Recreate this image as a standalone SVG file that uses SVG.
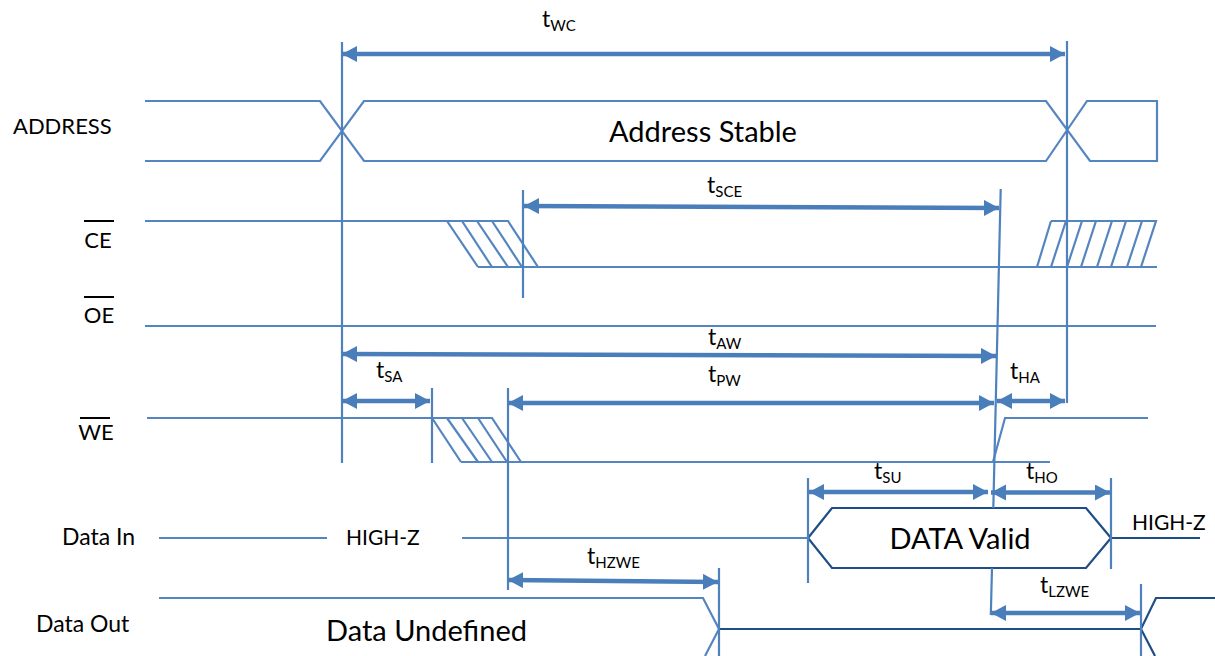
<svg xmlns="http://www.w3.org/2000/svg" width="1215" height="656" viewBox="0 0 1215 656">
<style>
text{font-family:Lato,"Liberation Sans",sans-serif;fill:#000}
.l{font-size:22px}
.m{font-size:23px}
.hz{font-size:21px}
.b{font-size:29px}
.t{font-size:23px}
.s{font-size:15px}
.w{fill:none;stroke:#5585c0;stroke-width:2.200}
.d{fill:none;stroke:#1f4e86;stroke-width:2.200}
.v{fill:none;stroke:#4f81bd;stroke-width:2.200}
.a{fill:none;stroke:#4a7ebb;stroke-width:4.500;marker-start:url(#h);marker-end:url(#h)}
.o{stroke:#000;stroke-width:2}
</style>
<defs>
<marker id="h" markerUnits="userSpaceOnUse" markerWidth="16" markerHeight="18" refX="15" refY="8" orient="auto-start-reverse"><path d="M0 0L15 8L0 16Z" fill="#4a7ebb"/></marker>
</defs>
<g id="sig-address"><path class="w" d="M145 101H320L364 161H1046L1087 101H1157V161H1090L1046 101H364L320 161H145"/><text class="l" x="13" y="134">ADDRESS</text><text class="b" x="703" y="142" text-anchor="middle">Address Stable</text></g>
<g id="sig-ce"><path class="w" d="M145 221H508L538 267H1157"/><path class="w" d="M447 221L478 267M462 221L492 267M477 221L508 267M492 221L522 267M478 267H538"/><path class="w" d="M1051 221H1156L1141 267M1037 267L1051 221M1051 267L1066 221M1067 267L1082 221M1081 267L1096 221M1097 267L1112 221M1111 267L1126 221M1127 267L1142 221"/><line class="o" x1="84" y1="221" x2="114" y2="221"/><text class="l" x="98" y="248" text-anchor="middle">CE</text></g>
<g id="sig-oe"><path class="w" d="M145 326H1156"/><line class="o" x1="84" y1="297" x2="114" y2="297"/><text class="l" x="99" y="323" text-anchor="middle">OE</text></g>
<g id="sig-we"><path class="w" d="M147 418H492L521 462M432 418L461 462M447 418L478 462M462 418L492 462M478 418L507 462M461 462H1050M993 462L1005 418H1148"/><line class="o" x1="80" y1="418" x2="110" y2="418"/><text class="l" x="96" y="440" text-anchor="middle">WE</text></g>
<g id="sig-datain"><path class="w" d="M159 538H327M462 538H808"/><path class="d" d="M808 538L832 508H1086L1111 538L1086 568H832L808 538M1111 538H1200"/><text class="m" x="62" y="545">Data In</text><text class="hz" x="346" y="545">HIGH-Z</text><text class="hz" x="1132" y="530">HIGH-Z</text><text class="b" x="960" y="549" text-anchor="middle">DATA Valid</text></g>
<g id="sig-dataout"><path class="w" d="M159 598H703L719 629L705 656"/><path class="d" d="M719 629H1141L1156 598H1215M1141 629L1155 656"/><text class="m" x="36" y="632">Data Out</text><text class="b" x="326" y="641">Data Undefined</text></g>
<g id="connectors">
<path class="v" d="M342 42V463M1067 41V403M523 190V298M432 388V463M508 388V590M808 478V583M1111 478V569M719 568V656M1141 584V656M1000.700 189L993.300 508M992 568L990.800 615"/>
<path class="a" d="M342 54H1065"/>
<path class="a" d="M524 206L999 208"/>
<path class="a" d="M342 354L996 356"/>
<path class="a" d="M342 401H430"/>
<path class="a" d="M508 403H994"/>
<path class="a" d="M997 401H1065"/>
<path class="a" d="M809 492H988"/>
<path class="a" d="M991 492.500H1110"/>
<path class="a" d="M508 580L718 582"/>
<path class="a" d="M991 613H1140"/>
</g>
<g id="labels">
<text class="t" x="542" y="27">t<tspan class="s" dy="4">WC</tspan></text>
<text class="t" x="707" y="193">t<tspan class="s" dy="4">SCE</tspan></text>
<text class="t" x="708" y="345">t<tspan class="s" dy="4">AW</tspan></text>
<text class="t" x="376" y="378">t<tspan class="s" dy="4">SA</tspan></text>
<text class="t" x="708" y="382">t<tspan class="s" dy="4">PW</tspan></text>
<text class="t" x="1010" y="379">t<tspan class="s" dy="4">HA</tspan></text>
<text class="t" x="874" y="479">t<tspan class="s" dy="4">SU</tspan></text>
<text class="t" x="1026" y="479">t<tspan class="s" dy="4">HO</tspan></text>
<text class="t" x="587" y="564">t<tspan class="s" dy="4">HZWE</tspan></text>
<text class="t" x="1040" y="593">t<tspan class="s" dy="4">LZWE</tspan></text>
</g>
</svg>
